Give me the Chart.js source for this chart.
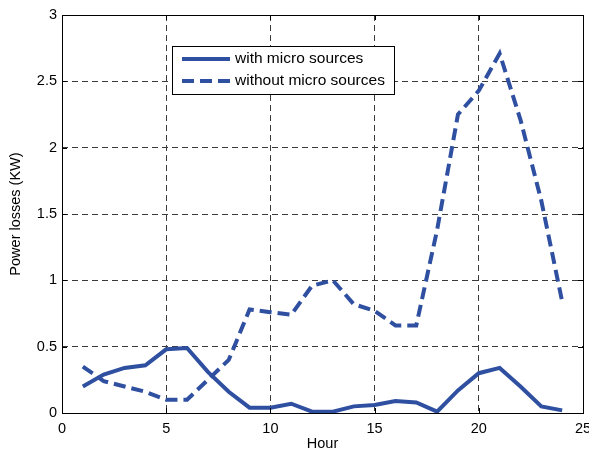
<!DOCTYPE html>
<html lang="en">
  <head>
    <meta charset="UTF-8" />
    <title>Power losses per hour</title>
    <script src="https://cdn.jsdelivr.net/npm/chart.js"></script>
    <style>
      html,
      body {
        margin: 0;
        padding: 0;
        background: #fff;
      }
      #wrap {
        position: relative;
        width: 589px;
        height: 453px;
      }
    </style>
  </head>
  <body>
    <div id="wrap">
      <canvas id="lossChart" width="589" height="453"></canvas>
    </div>

    <script>
      // hours of the day
      const hours = [1, 2, 3, 4, 5, 6, 7, 8, 9, 10, 11, 12, 13, 14, 15, 16, 17, 18, 19, 20, 21, 22, 23, 24];
      // losses in KW
      const withMicro = [0.2, 0.29, 0.34, 0.36, 0.48, 0.49, 0.31, 0.16, 0.04, 0.04, 0.07, 0.01, 0.01, 0.05, 0.06, 0.09, 0.08, 0.01, 0.17, 0.3, 0.34, 0.2, 0.05, 0.02];
      const withoutMicro = [0.35, 0.24, 0.2, 0.16, 0.1, 0.1, 0.25, 0.4, 0.78, 0.76, 0.74, 0.96, 1.0, 0.82, 0.77, 0.66, 0.66, 1.38, 2.25, 2.43, 2.71, 2.21, 1.6, 0.84];
      const seriesNames = ["with micro sources", "without micro sources"];
      const xTicks = [0, 5, 10, 15, 20, 25];
      const yTicks = [0, 0.5, 1, 1.5, 2, 2.5, 3];

      const lineColor = "#2f4fa0";
      const fontFamily = "'Liberation Sans', Arial, sans-serif";

      // solid frame round the plot area plus small inward ticks (matlab look)
      const framePlugin = {
        id: "frame",
        afterDraw(chart) {
          const { ctx, chartArea: a, scales } = chart;
          ctx.save();
          ctx.strokeStyle = "#000";
          ctx.lineWidth = 1;
          ctx.setLineDash([]);
          ctx.strokeRect(Math.round(a.left) + 0.5, Math.round(a.top) + 0.5, Math.round(a.right - a.left), Math.round(a.bottom - a.top));
          ctx.beginPath();
          xTicks.forEach((v) => {
            const px = Math.round(scales.x.getPixelForValue(v)) + 0.5;
            ctx.moveTo(px, a.bottom);
            ctx.lineTo(px, a.bottom - 5);
            ctx.moveTo(px, a.top);
            ctx.lineTo(px, a.top + 5);
          });
          yTicks.forEach((v) => {
            const py = Math.round(scales.y.getPixelForValue(v)) + 0.5;
            ctx.moveTo(a.left, py);
            ctx.lineTo(a.left + 5, py);
            ctx.moveTo(a.right, py);
            ctx.lineTo(a.right - 5, py);
          });
          ctx.stroke();
          ctx.restore();
        },
      };

      // legend box inside the plot, top left
      const boxLegendPlugin = {
        id: "boxLegend",
        afterDraw(chart) {
          const ctx = chart.ctx;
          const bx = 172, by = 46, bw = 222, bh = 48;
          ctx.save();
          ctx.fillStyle = "#fff";
          ctx.fillRect(bx, by, bw, bh);
          ctx.strokeStyle = "#000";
          ctx.lineWidth = 1;
          ctx.strokeRect(bx + 0.5, by + 0.5, bw, bh);
          chart.data.datasets.forEach((ds, i) => {
            const y = by + 13 + i * 22;
            ctx.strokeStyle = ds.borderColor;
            ctx.lineWidth = ds.borderWidth;
            ctx.setLineDash(ds.borderDash || []);
            ctx.beginPath();
            ctx.moveTo(bx + 10, y);
            ctx.lineTo(bx + 58, y);
            ctx.stroke();
            ctx.setLineDash([]);
            ctx.fillStyle = "#000";
            ctx.font = "15.5px " + fontFamily;
            ctx.textBaseline = "middle";
            ctx.fillText(ds.label, bx + 63, y);
          });
          ctx.restore();
        },
      };

      const gridStyle = {
        color: "#3a3a3a",
        lineWidth: 1,
        drawTicks: false,
      };

      new Chart(document.getElementById("lossChart"), {
        type: "line",
        data: {
          datasets: [
            {
              label: seriesNames[0],
              data: hours.map((h, i) => ({ x: h, y: withMicro[i] })),
              borderColor: lineColor,
              borderWidth: 4,
              pointRadius: 0,
              tension: 0,
              fill: false,
            },
            {
              label: seriesNames[1],
              data: hours.map((h, i) => ({ x: h, y: withoutMicro[i] })),
              borderColor: lineColor,
              borderWidth: 4,
              borderDash: [12, 6],
              pointRadius: 0,
              tension: 0,
              fill: false,
            },
          ],
        },
        options: {
          responsive: false,
          animation: false,
          devicePixelRatio: 1,
          layout: {
            autoPadding: false,
            padding: { left: 0, right: 6, top: 15, bottom: 0 },
          },
          plugins: {
            legend: { display: false },
            tooltip: { enabled: false },
          },
          scales: {
            x: {
              type: "linear",
              min: 0,
              max: 25,
              afterFit(scale) {
                scale.height = 40;
                scale.paddingLeft = 0;
                scale.paddingRight = 0;
              },
              afterBuildTicks(scale) {
                scale.ticks = xTicks.map((v) => ({ value: v }));
              },
              grid: gridStyle,
              border: { display: false, dash: [6, 4] },
              ticks: {
                color: "#000",
                padding: 7,
                maxRotation: 0,
                font: { family: fontFamily, size: 14.5 },
              },
              title: {
                display: true,
                text: "Hour",
                color: "#000",
                padding: { top: 0, bottom: 0 },
                font: { family: fontFamily, size: 14.5 },
              },
            },
            y: {
              min: 0,
              max: 3,
              afterFit(scale) {
                scale.width = 62;
                scale.paddingTop = 0;
                scale.paddingBottom = 0;
              },
              afterBuildTicks(scale) {
                scale.ticks = yTicks.map((v) => ({ value: v }));
              },
              grid: gridStyle,
              border: { display: false, dash: [6, 4] },
              ticks: {
                color: "#000",
                padding: 5,
                font: { family: fontFamily, size: 14.5 },
                callback: (v) => String(v),
              },
              title: {
                display: true,
                text: "Power losses (KW)",
                color: "#000",
                padding: { top: 7, bottom: 0 },
                font: { family: fontFamily, size: 14.5 },
              },
            },
          },
        },
        plugins: [framePlugin, boxLegendPlugin],
      });
    </script>
  </body>
</html>
